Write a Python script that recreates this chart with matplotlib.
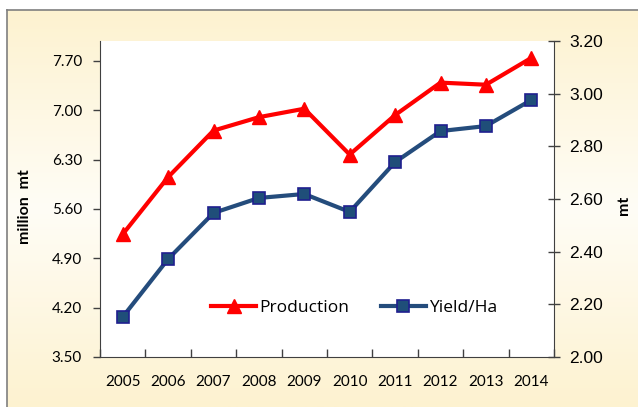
import numpy as np
import matplotlib.pyplot as plt
from matplotlib.colors import LinearSegmentedColormap

# data
years = ['2005', '2006', '2007', '2008', '2009', '2010', '2011', '2012', '2013', '2014']
production = [5.24, 6.05, 6.71, 6.90, 7.02, 6.37, 6.93, 7.39, 7.36, 7.74]
yield_ha = [2.152, 2.372, 2.547, 2.604, 2.619, 2.551, 2.740, 2.858, 2.877, 2.976]
left_ticks = [3.50, 4.20, 4.90, 5.60, 6.30, 7.00, 7.70]
right_ticks = [2.00, 2.20, 2.40, 2.60, 2.80, 3.00, 3.20]

fig = plt.figure(figsize=(6.38, 4.07), dpi=100)
W, H = 638, 407

# cream background with lighter middle band, framed
bg = fig.add_axes([7 / W, 0, 1 - 7 / W, 1 - 10 / H], zorder=-5)
cmap = LinearSegmentedColormap.from_list('bg', ['#FDF2D0', '#FFFDF6', '#FDF2D0'])
bg.imshow(np.linspace(0, 1, 256).reshape(-1, 1), aspect='auto', cmap=cmap, extent=[0, 1, 0, 1])
bg.set_xticks([])
bg.set_yticks([])
for s in ['right', 'bottom']:
    bg.spines[s].set_visible(False)
for s in ['left', 'top']:
    bg.spines[s].set_color('#7F7F7F')
    bg.spines[s].set_linewidth(1.2)

ax = fig.add_axes([100 / W, 1 - 357 / H, 454 / W, 316 / H])
ax.set_facecolor('white')
ax2 = ax.twinx()

x = np.arange(len(years))
l1, = ax.plot(x, production, color='#FF0000', lw=3, marker='^', ms=10,
              markerfacecolor='#FF0000', markeredgecolor='#FF0000', label='Production', clip_on=False)
l2, = ax2.plot(x, yield_ha, color='#244C7C', lw=3, marker='s', ms=8,
               markerfacecolor='#1F4E79', markeredgecolor='#1F1F8F', markeredgewidth=1.2,
               label='Yield/Ha', clip_on=False)

ax.set_xlim(-0.5, len(years) - 0.5)
ax.set_ylim(3.5, 7.98)
ax2.set_ylim(2.0, 3.2)

ax.set_xticks(np.arange(len(years) + 1) - 0.5, minor=False)
ax.set_xticklabels([])
ax.set_xticks(x, minor=True)
ax.set_xticklabels(years, minor=True, fontsize=11, family='Lato')
ax.tick_params(axis='x', which='major', direction='in', length=6, width=1, color='#404040')
ax.tick_params(axis='x', which='minor', length=0, pad=13)

ax.set_yticks(left_ticks)
ax.set_yticklabels(['%.2f' % v for v in left_ticks], fontsize=11, family='Lato')
ax.tick_params(axis='y', direction='out', length=5, width=1, color='#404040', pad=8)

ax2.set_yticks(right_ticks)
ax2.set_yticklabels(['%.2f' % v for v in right_ticks], fontsize=12.5, family='Liberation Sans')
ax2.tick_params(axis='y', direction='inout', length=8, width=1, color='#404040', pad=7)

for a in (ax, ax2):
    a.spines['top'].set_visible(False)
ax.spines['right'].set_visible(False)
ax2.spines['left'].set_visible(False)
ax2.spines['bottom'].set_visible(False)
ax.spines['left'].set_color('#404040')
ax.spines['bottom'].set_color('#404040')
ax2.spines['right'].set_color('#404040')

fig.text(25 / W, 1 - 207 / H, 'million  mt', rotation=90, ha='center', va='center',
         fontsize=11.5, fontweight='bold', family='Lato')
fig.text(624 / W, 1 - 205 / H, 'mt', rotation=90, ha='center', va='center',
         fontsize=11.5, fontweight='bold', family='Lato')

leg = ax.legend(handles=[l1, l2], loc='center', bbox_to_anchor=(0.56, 0.155), ncol=2,
                frameon=False, fontsize=12.5, handlelength=2.6, columnspacing=1.8, handletextpad=0.2)
for t in leg.get_texts():
    t.set_family('Open Sans')

fig.savefig('out.png', dpi=100)
